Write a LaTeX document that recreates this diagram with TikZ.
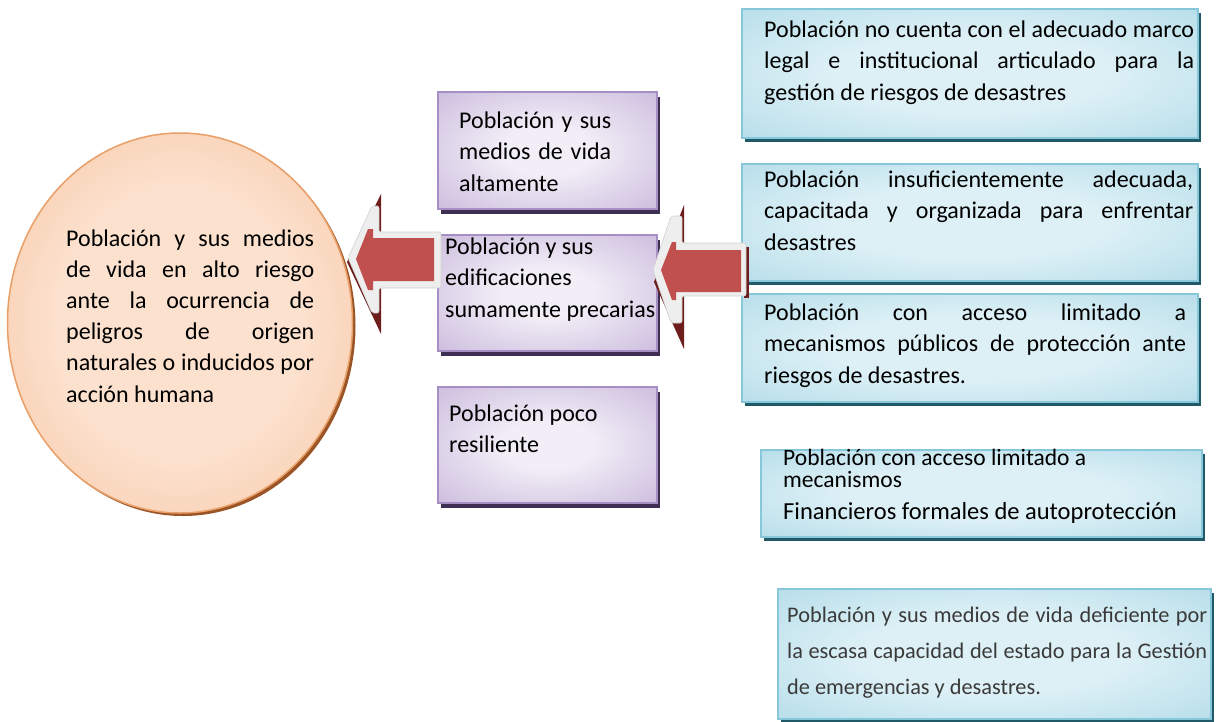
\documentclass[tikz,border=0pt]{standalone}
\usepackage{fontspec}
\setmainfont{Carlito}
\usetikzlibrary{shapes.geometric,shadows}
\definecolor{BlueIn}{HTML}{DDF0F6}
\definecolor{BlueOut}{HTML}{9ED2E2}
\definecolor{BlueLine}{HTML}{86C8DA}
\definecolor{BlueShadow}{HTML}{205A69}
\definecolor{PurIn}{HTML}{F2EEF7}
\definecolor{PurOut}{HTML}{B8A2D0}
\definecolor{PurLine}{HTML}{A68FC4}
\definecolor{PurShadow}{HTML}{3E2F52}
\definecolor{PeachIn}{HTML}{FCE1CE}
\definecolor{PeachOut}{HTML}{F1AE7E}
\definecolor{PeachLine}{HTML}{E99F68}
\definecolor{PeachShadow}{HTML}{9A5426}
\definecolor{ArrRed}{HTML}{C0504D}
\definecolor{ArrDark}{HTML}{6D1E1C}
\definecolor{ArrBevel}{HTML}{EEEEEE}
\definecolor{BevelLine}{HTML}{D0D0D0}
\definecolor{GrayText}{HTML}{3A3A3A}
\pgfdeclareradialshading{blueshade}{\pgfpoint{0bp}{0bp}}{color(0bp)=(BlueIn); color(15bp)=(BlueIn); color(50bp)=(BlueOut)}
\pgfdeclareradialshading{purshade}{\pgfpoint{0bp}{0bp}}{color(0bp)=(PurIn); color(10bp)=(PurIn); color(50bp)=(PurOut)}
\pgfdeclareradialshading{peachshade}{\pgfpoint{0bp}{0bp}}{color(0bp)=(PeachIn); color(18bp)=(PeachIn); color(50bp)=(PeachOut)}
\newcommand{\JL}[2]{\hbox to #1{#2}}
\newcommand{\NL}[1]{\hbox{#1}}
\newcommand{\Stack}[2]{\vtop{\baselineskip=#1\relax\lineskiplimit=-100pt #2}}
\tikzset{
  bluebox/.style={shading=blueshade, draw=BlueLine, line width=2pt, anchor=north west,
    general shadow={fill=BlueShadow, shadow xshift=3pt, shadow yshift=-4pt}},
  purbox/.style={shading=purshade, draw=PurLine, line width=2pt, anchor=north west,
    minimum width=219pt,
    general shadow={fill=PurShadow, shadow xshift=3pt, shadow yshift=-5pt}},
  peachnode/.style={shading=peachshade, draw=PeachLine, line width=1.5pt, ellipse,
    general shadow={fill=PeachShadow, shadow xshift=3pt, shadow yshift=-3pt}},
  txt/.style={anchor=base west, inner sep=0pt, font=\fontsize{24}{31.5}\selectfont, text=black},
  bevel/.style={fill=ArrBevel, draw=BevelLine, line width=0.6pt, rounded corners=2pt},
}
\begin{document}
\begin{tikzpicture}[x=1pt,y=-1pt]
\useasboundingbox (0,0) rectangle (1224,721);
\fill[white] (0,0) rectangle (1224,721);

% central ellipse
\node[peachnode, minimum width=345pt, minimum height=380pt] (circ) at (180,323) {};

% purple boxes
\node[purbox, minimum height=117pt] (p1) at (437,91) {};
\node[purbox, minimum height=116pt] (p2) at (437,234) {};
\node[purbox, minimum height=116pt] (p3) at (437,386) {};

% blue boxes
\node[bluebox, minimum width=456pt, minimum height=129pt] (bA) at (741,8) {};
\node[bluebox, minimum width=456pt, minimum height=117pt] (bB) at (741,163) {};
\node[bluebox, minimum width=456pt, minimum height=108pt] (bC) at (741,293) {};
\node[bluebox, minimum width=441pt, minimum height=87pt] (bD) at (760,449) {};
\node[bluebox, minimum width=433pt, minimum height=130pt] (bE) at (777,588) {};

% arrow 1 (box p2 -> ellipse)
\fill[ArrDark] (381,194) -- (381,334) -- (347,262) -- cycle;
\path[bevel] (348,258) -- (372,206) -- (379,206) -- (379,232) -- (441,232) -- (441,288) -- (379,288) -- (379,313) -- (372,313) -- cycle;
\fill[ArrRed] (356,259) -- (368,229) -- (373,229) -- (373,238) -- (434,238) -- (434,281) -- (373,281) -- (373,290) -- (368,290) -- cycle;

% arrow 2 (blue boxes -> box p2)
\fill[ArrDark] (684,205) -- (684,349) -- (654,282) -- cycle;
\fill[ArrDark] (744,247) rectangle (749,298);
\path[bevel] (653,270) -- (671,216) -- (682,216) -- (682,243) -- (746,243) -- (746,296) -- (682,296) -- (682,323) -- (671,323) -- cycle;
\fill[ArrRed] (661,270) -- (672,242) -- (676,242) -- (676,250) -- (741,250) -- (741,292) -- (676,292) -- (676,300) -- (672,300) -- cycle;

% texts
\node[txt] (tcirc) at (66,246) {\Stack{31.2pt}{%
  \JL{248pt}{Población y sus medios}%
  \JL{248pt}{de vida en alto riesgo}%
  \JL{248pt}{ante la ocurrencia de}%
  \JL{248pt}{peligros de origen}%
  \JL{248pt}{naturales o inducidos por}%
  \NL{acción humana}}};

\node[txt] (tp1) at (459,128) {\Stack{31.5pt}{%
  \JL{152pt}{Población y sus}%
  \JL{152pt}{medios de vida}%
  \NL{altamente}}};
\node[txt] (tp2) at (445,254) {\Stack{31.5pt}{%
  \NL{Población y sus}%
  \NL{edificaciones}%
  \NL{sumamente precarias}}};
\node[txt] (tp3) at (449,421) {\Stack{31.5pt}{%
  \NL{Población poco}%
  \NL{resiliente}}};

\node[txt] (tA) at (764,37) {\Stack{31.5pt}{%
  \JL{430pt}{Población no cuenta con el adecuado marco}%
  \JL{430pt}{legal e institucional articulado para la}%
  \NL{gestión de riesgos de desastres}}};
\node[txt] (tB) at (764,187) {\Stack{31.5pt}{%
  \JL{429pt}{Población insuficientemente adecuada,}%
  \JL{429pt}{capacitada y organizada para enfrentar}%
  \NL{desastres}}};
\node[txt] (tC) at (764,320) {\Stack{31.5pt}{%
  \JL{422pt}{Población con acceso limitado a}%
  \JL{422pt}{mecanismos públicos de protección ante}%
  \NL{riesgos de desastres.}}};
\node[txt, font=\fontsize{23.5}{22}\selectfont] (tD) at (783,465) {\vtop{\baselineskip=22pt\lineskiplimit=-100pt
  \NL{Población con acceso limitado a}%
  \NL{mecanismos}%
  \baselineskip=32pt
  \NL{\fontsize{24.5}{30}\selectfont Financieros formales de autoprotección}}};
\node[txt, font=\fontsize{22.3}{36}\selectfont, text=GrayText] (tE) at (787,622) {\Stack{36pt}{%
  \JL{420pt}{Población y sus medios de vida deficiente por}%
  \JL{420pt}{la escasa capacidad del estado para la Gestión}%
  \NL{de emergencias y desastres.}}};
\end{tikzpicture}
\end{document}
